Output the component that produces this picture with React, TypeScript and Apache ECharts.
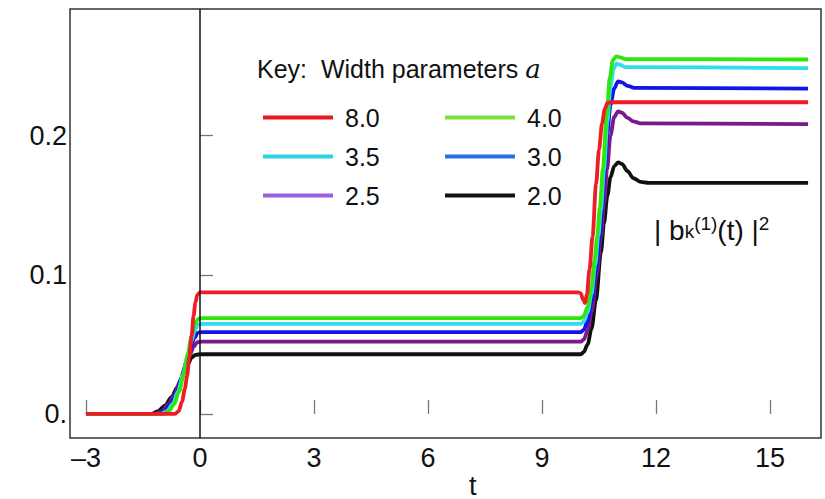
import React, { useEffect, useRef } from "react";
import * as echarts from "echarts";

// Width parameters a, one curve each
const widthParams = ["8.0", "4.0", "3.5", "3.0", "2.5", "2.0"];

// |b_k^(1)(t)|^2 samples as [t, value]
const curveA80: [number, number][] = [
  [-3, 0], [-0.66, 0], [-0.56, 0.002], [-0.47, 0.009], [-0.4, 0.018], [-0.34, 0.027],
  [-0.28, 0.041], [-0.22, 0.056], [-0.17, 0.0705], [-0.12, 0.08], [-0.07, 0.0855],
  [0, 0.0873], [9.95, 0.0873], [10.02, 0.0866], [10.08, 0.082], [10.13, 0.0796],
  [10.18, 0.086], [10.25, 0.104], [10.33, 0.1276], [10.42, 0.165], [10.5, 0.19],
  [10.58, 0.209], [10.65, 0.219], [10.72, 0.2235], [10.8, 0.224], [16, 0.224],
];
const curveA40: [number, number][] = [
  [-3, 0], [-0.98, 0], [-0.82, 0.002], [-0.68, 0.007], [-0.55, 0.016], [-0.43, 0.028],
  [-0.32, 0.043], [-0.22, 0.056], [-0.13, 0.065], [-0.05, 0.0683], [0.05, 0.0688],
  [10.02, 0.0688], [10.1, 0.0705], [10.2, 0.077], [10.3, 0.091], [10.38, 0.11],
  [10.45, 0.1276], [10.52, 0.148], [10.6, 0.1755], [10.7, 0.214], [10.78, 0.241],
  [10.86, 0.254], [10.95, 0.257], [11.05, 0.2562], [11.2, 0.255], [16, 0.2547],
];
const curveA35: [number, number][] = [
  [-3, 0], [-1.03, 0], [-0.87, 0.002], [-0.72, 0.007], [-0.58, 0.016], [-0.45, 0.028],
  [-0.33, 0.041], [-0.23, 0.052], [-0.13, 0.0605], [-0.05, 0.0642], [0.05, 0.0647],
  [10.02, 0.0647], [10.1, 0.0665], [10.2, 0.073], [10.3, 0.086], [10.4, 0.107],
  [10.48, 0.1276], [10.55, 0.147], [10.63, 0.1755], [10.72, 0.21], [10.8, 0.235],
  [10.88, 0.248], [10.96, 0.2518], [11.06, 0.2508], [11.2, 0.2492], [16, 0.2485],
];
const curveA30: [number, number][] = [
  [-3, 0], [-1.1, 0], [-0.93, 0.002], [-0.77, 0.007], [-0.62, 0.015], [-0.48, 0.026],
  [-0.36, 0.037], [-0.25, 0.047], [-0.15, 0.0545], [-0.06, 0.0583], [0.05, 0.0588],
  [10.02, 0.0588], [10.1, 0.0605], [10.2, 0.067], [10.3, 0.08], [10.42, 0.104],
  [10.52, 0.1276], [10.58, 0.148], [10.65, 0.1755], [10.72, 0.202], [10.8, 0.222],
  [10.9, 0.234], [11.0, 0.239], [11.1, 0.2383], [11.25, 0.2358], [11.43, 0.2343],
  [16, 0.2338],
];
const curveA25: [number, number][] = [
  [-3, 0], [-1.18, 0], [-1.0, 0.002], [-0.83, 0.007], [-0.67, 0.014], [-0.52, 0.024],
  [-0.39, 0.034], [-0.27, 0.0425], [-0.16, 0.0485], [-0.07, 0.0515], [0.05, 0.052],
  [10.02, 0.052], [10.1, 0.0535], [10.2, 0.06], [10.3, 0.073], [10.44, 0.1],
  [10.55, 0.1276], [10.63, 0.151], [10.71, 0.1755], [10.8, 0.2], [10.9, 0.2135],
  [11.0, 0.2175], [11.1, 0.2165], [11.25, 0.2128], [11.4, 0.2102], [11.6, 0.2088],
  [16, 0.2082],
];
const curveA20: [number, number][] = [
  [-3, 0], [-1.28, 0], [-1.1, 0.002], [-0.92, 0.006], [-0.75, 0.012], [-0.6, 0.019],
  [-0.46, 0.027], [-0.33, 0.035], [-0.22, 0.0405], [-0.12, 0.0425], [0.05, 0.0429],
  [10.02, 0.0429], [10.1, 0.0445], [10.2, 0.05], [10.3, 0.061], [10.42, 0.082],
  [10.55, 0.116], [10.63, 0.137], [10.72, 0.157], [10.8, 0.17], [10.9, 0.178],
  [11.0, 0.1808], [11.1, 0.1797], [11.25, 0.1745], [11.4, 0.1695], [11.6, 0.1667],
  [11.8, 0.166], [16, 0.166],
];

const xTicks = [-3, 0, 3, 6, 9, 12, 15];
const yTicks = [0, 0.1, 0.2];
const yTickLabels = ["0.", "0.1", "0.2"];

const curveColors = ["#ee1c24", "#2ee60a", "#2ee0ec", "#1414e8", "#7a1a8c", "#111111"];
const keyColors = ["#e8181e", "#78e03a", "#2fd4e6", "#2c6ee2", "#9e5ee2", "#111111"];

const curves = [curveA80, curveA40, curveA35, curveA30, curveA25, curveA20];

const FONT = "'Liberation Sans', Arial, Helvetica, sans-serif";

export default function App() {
  const ref = useRef<HTMLDivElement>(null);

  useEffect(() => {
    if (!ref.current) return;
    const chart = echarts.init(ref.current, undefined, { renderer: "svg" });

    // draw black → red so that red ends on top
    const order = [5, 4, 3, 2, 1, 0];
    const lineSeries = order.map((i) => ({
      name: widthParams[i],
      type: "line",
      data: curves[i],
      showSymbol: false,
      symbol: "none",
      smooth: 0.3,
      smoothMonotone: "x",
      z: 3,
      lineStyle: { color: curveColors[i], width: 3.8 },
      itemStyle: { color: keyColors[i] },
    }));

    const keyItem = (i: number) => ({
      name: widthParams[i],
      itemStyle: { color: keyColors[i] },
    });

    const keyLegend = (left: number, idx: number[]) => ({
      orient: "vertical",
      left,
      top: 100,
      icon: "rect",
      itemWidth: 70,
      itemHeight: 4,
      itemGap: 14,
      selectedMode: false,
      data: idx.map(keyItem),
      textStyle: {
        fontFamily: FONT,
        fontSize: 25,
        lineHeight: 24,
        color: "#111",
        padding: [0, 0, 0, 7],
      },
    });

    chart.setOption({
      animation: false,
      backgroundColor: "#ffffff",
      grid: {
        left: 70,
        right: 4,
        top: 9,
        bottom: 61,
        show: true,
        borderColor: "#333",
        borderWidth: 1.5,
        backgroundColor: "transparent",
      },
      xAxis: {
        type: "value",
        min: -3.42,
        max: 16.34,
        axisLine: { show: false },
        splitLine: { show: false },
        axisTick: {
          show: true,
          inside: true,
          length: 14,
          customValues: xTicks,
          lineStyle: { color: "#777", width: 1.3 },
        },
        axisLabel: {
          customValues: xTicks,
          margin: 6,
          fontFamily: FONT,
          fontSize: 27,
          color: "#111",
          formatter: (v: number) => (v < 0 ? "\u2013" + Math.abs(v) : String(v)),
        },
      },
      yAxis: {
        type: "value",
        min: -0.0173,
        max: 0.291,
        axisLine: { show: false },
        splitLine: { show: false },
        axisTick: {
          show: true,
          inside: true,
          length: 13,
          customValues: yTicks,
          lineStyle: { color: "#777", width: 1.3 },
        },
        axisLabel: {
          customValues: yTicks,
          margin: 3,
          fontFamily: FONT,
          fontSize: 27,
          color: "#111",
          formatter: (v: number) => {
            const k = yTicks.findIndex((t) => Math.abs(t - v) < 1e-9);
            return k >= 0 ? yTickLabels[k] : "";
          },
        },
      },
      legend: [keyLegend(258, [0, 2, 4]), keyLegend(440, [1, 3, 5])],
      series: [
        {
          type: "line",
          data: [],
          z: 1,
          silent: true,
          markLine: {
            silent: true,
            symbol: "none",
            label: { show: false },
            lineStyle: { color: "#111", width: 1.5, type: "solid" },
            data: [{ xAxis: 0 }],
          },
        },
        ...lineSeries,
      ],
      graphic: [
        {
          type: "text",
          left: 257,
          top: 56,
          style: {
            text: "Key:  Width parameters {i|a}",
            fontFamily: FONT,
            fontSize: 25,
            fill: "#111",
            rich: {
              i: {
                fontFamily: "'DejaVu Serif', 'Liberation Serif', serif",
                fontStyle: "italic",
                fontSize: 26,
                fill: "#111",
              },
            },
          },
        },
        {
          type: "text",
          left: 654,
          top: 214,
          style: {
            text: "| b{sub|k}{sup|(1)}(t) |{sup|2}",
            fontFamily: FONT,
            fontSize: 28,
            lineHeight: 32,
            fill: "#111",
            rich: {
              sub: { fontFamily: FONT, fontSize: 19, lineHeight: 32, verticalAlign: "bottom", padding: [0, 0, 5, 0], fill: "#111" },
              sup: { fontFamily: FONT, fontSize: 19, lineHeight: 32, verticalAlign: "top", fill: "#111" },
            },
          },
        },
        {
          type: "text",
          left: 469,
          top: 472,
          style: { text: "t", fontFamily: FONT, fontSize: 27, fill: "#111" },
        },
      ],
    });

    return () => chart.dispose();
  }, []);

  return (
    <div
      ref={ref}
      style={{ position: "absolute", left: 0, top: 0, width: 825, height: 499 }}
    />
  );
}
